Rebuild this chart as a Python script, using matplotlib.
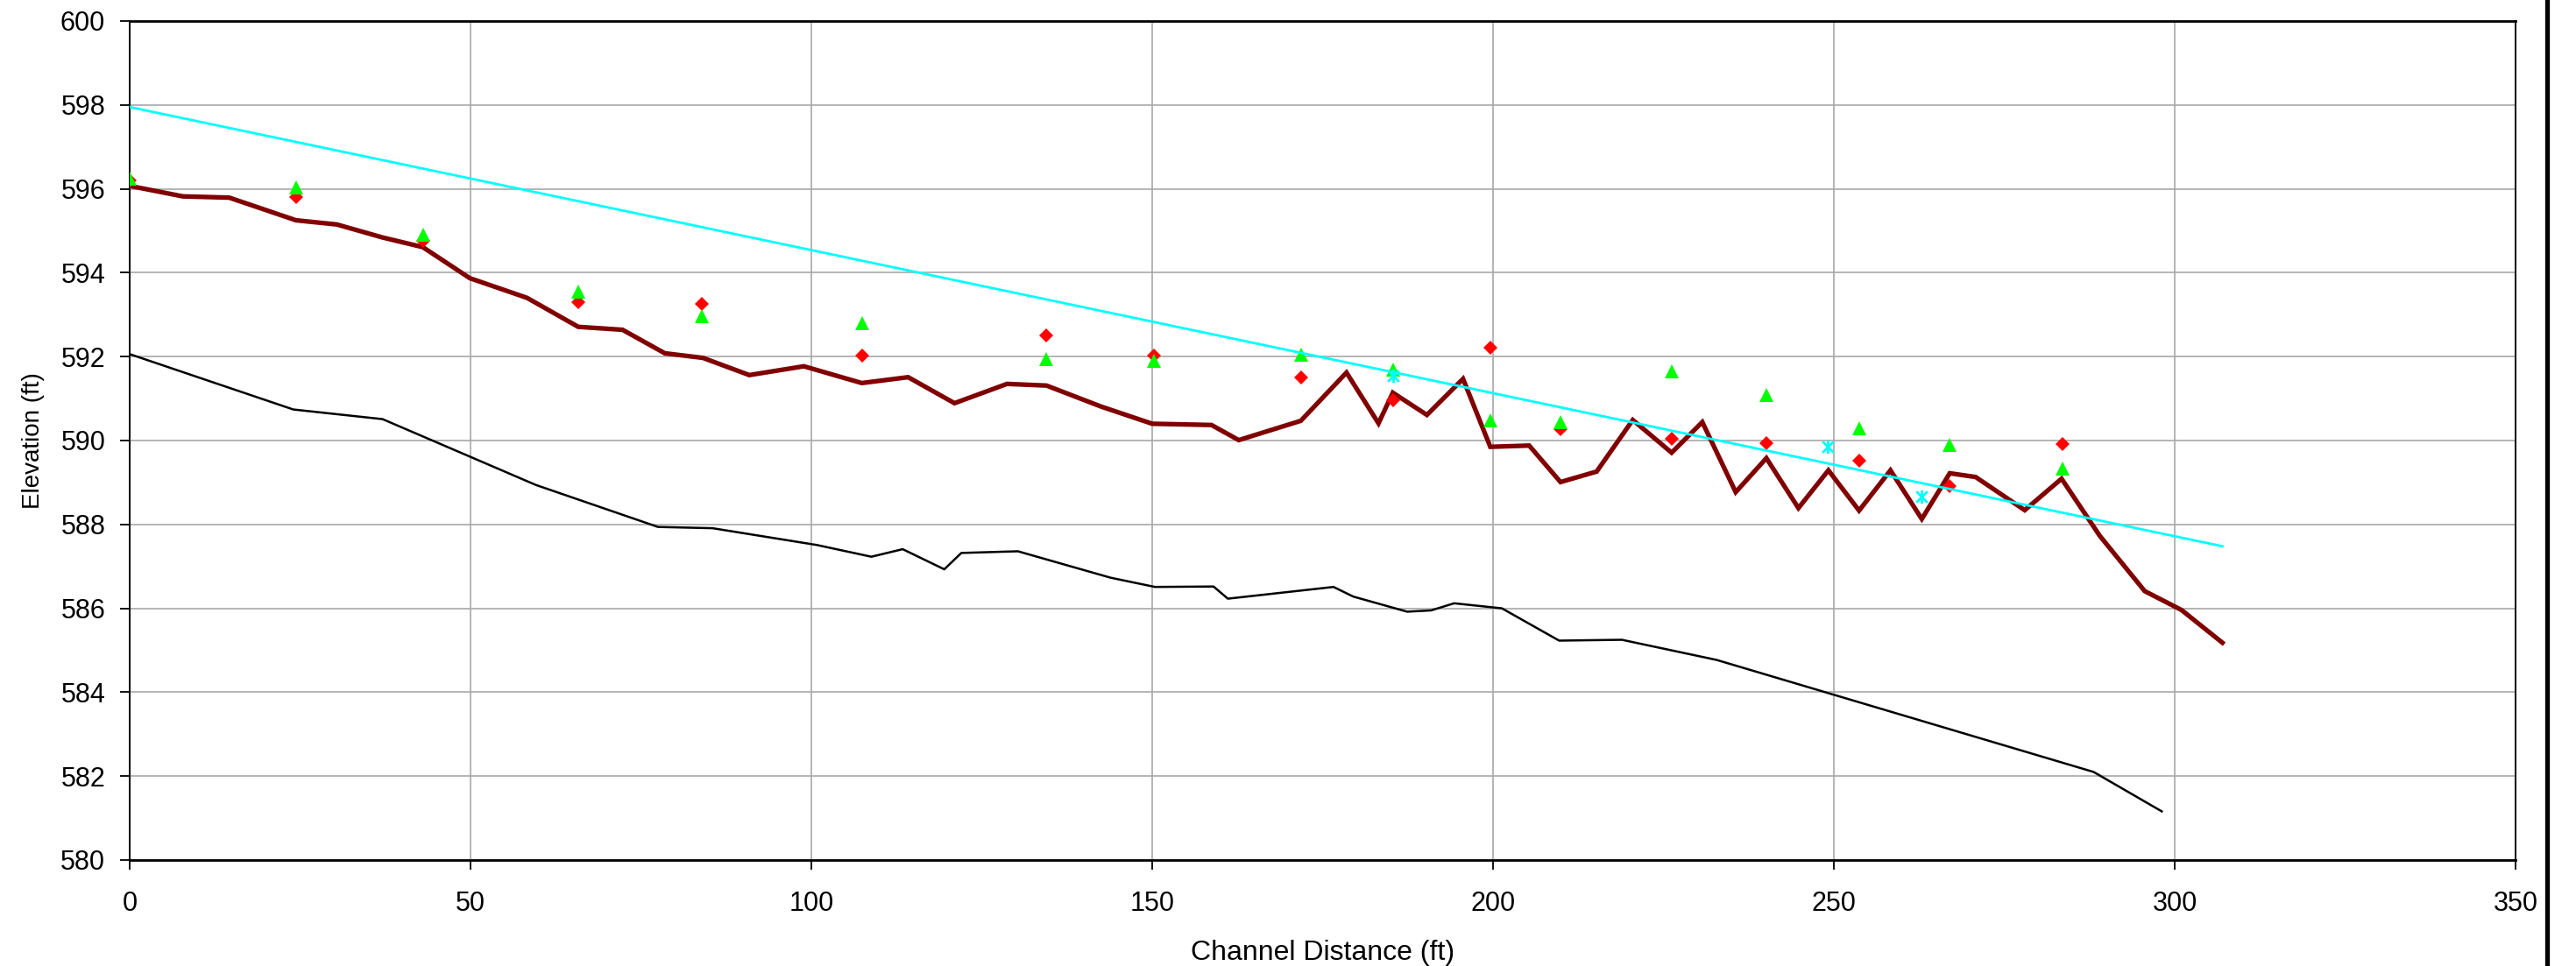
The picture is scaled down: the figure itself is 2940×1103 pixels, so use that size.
import numpy as np
import matplotlib
matplotlib.use("Agg")
import matplotlib.pyplot as plt
from matplotlib.path import Path
from matplotlib.lines import Line2D

plt.rcParams['font.family'] = ['Liberation Sans', 'DejaVu Sans']

# -------------------------
# DATA
# -------------------------
# water surface (thick maroon line)
ws_dist = [0, 7.8, 14.6, 24.4, 30.4, 37.1, 43.0, 49.9, 58.3, 65.8, 72.3, 78.5, 84.1,
           90.9, 98.9, 107.4, 114.2, 121.0, 128.7, 134.5, 142.5, 150.0, 158.7, 162.7,
           171.8, 178.5, 183.2, 185.3, 190.3, 195.6, 199.6, 205.3, 209.9, 215.2, 220.5,
           226.2, 230.7, 235.6, 240.1, 244.8, 249.2, 253.7, 258.3, 262.9, 267.0, 270.8,
           278.0, 283.4, 289.0, 295.6, 301.0, 307.0]
ws_elev = [596.07, 595.82, 595.79, 595.25, 595.15, 594.84, 594.61, 593.87, 593.40, 592.71,
           592.64, 592.08, 591.97, 591.56, 591.77, 591.37, 591.51, 590.89, 591.35, 591.31,
           590.81, 590.40, 590.37, 590.01, 590.47, 591.62, 590.41, 591.14, 590.61, 591.47,
           589.85, 589.88, 589.01, 589.26, 590.49, 589.71, 590.44, 588.77, 589.58, 588.39,
           589.29, 588.33, 589.29, 588.13, 589.22, 589.13, 588.34, 589.09, 587.73, 586.41,
           585.96, 585.18]

# channel bed (thin black line)
bed_dist = [0, 24.0, 37.1, 59.6, 77.5, 85.5, 100.8, 108.8, 113.4, 119.5, 122.0, 130.3,
            143.9, 150.4, 159.0, 161.1, 176.6, 179.5, 187.4, 190.9, 194.3, 201.3, 209.7,
            218.9, 232.8, 288.1, 298.1]
bed_elev = [592.06, 590.74, 590.51, 588.94, 587.94, 587.91, 587.51, 587.23, 587.41, 586.93,
            587.32, 587.36, 586.73, 586.51, 586.52, 586.23, 586.51, 586.28, 585.92, 585.95,
            586.12, 586.00, 585.23, 585.25, 584.77, 582.10, 581.16]

# bank / survey points
pt_dist = [0, 24.4, 43.0, 65.8, 83.9, 107.4, 134.5, 150.2, 171.8, 185.3, 199.6, 209.9,
           226.2, 240.1, 253.7, 267.0, 283.5]
red_elev = [596.20, 595.81, 594.76, 593.29, 593.26, 592.03, 592.51, 592.03, 591.50, 590.95,
            592.21, 590.27, 590.04, 589.94, 589.52, 588.92, 589.92]
green_elev = [596.24, 596.03, 594.90, 593.55, 592.97, 592.79, 591.95, 591.89, 592.04, 591.70,
              590.49, 590.44, 591.64, 591.08, 590.29, 589.89, 589.33]

# cyan asterisks
ast_dist = [185.3, 249.1, 262.9]
ast_elev = [591.55, 589.85, 588.67]

# cyan straight line
cy_dist = [0, 307.0]
cy_elev = [597.95, 587.48]

# -------------------------
# PLOT
# -------------------------
fig = plt.figure(figsize=(29.4, 11.03), dpi=100)
ax = fig.add_axes([148 / 2940, 1 - 982 / 1103, (2871 - 148) / 2940, (982 - 24) / 1103])

ax.plot(bed_dist, bed_elev, color='black', lw=1.8, zorder=3)
ax.plot(ws_dist, ws_elev, color='#800000', lw=3.8, zorder=4, solid_joinstyle='miter')
ax.plot(pt_dist, red_elev, 'D', color='#ff0000', ms=8.5, mew=0, zorder=5)
ax.plot(pt_dist, green_elev, '^', color='#00ff00', ms=11.5, mew=0, zorder=6)
ax.plot(cy_dist, cy_elev, color='#00ffff', lw=2.0, zorder=7)

star = Path([(-1, -1), (1, 1), (-1, 1), (1, -1), (0, -1.2), (0, 1.2)],
            [Path.MOVETO, Path.LINETO, Path.MOVETO, Path.LINETO, Path.MOVETO, Path.LINETO])
ax.plot(ast_dist, ast_elev, linestyle='none', marker=star, ms=11,
        markerfacecolor='none', markeredgecolor='#00ffff', mew=2, zorder=8)

ax.set_xlim(0, 350)
ax.set_ylim(580, 600)
ax.set_xticks(np.arange(0, 351, 50))
ax.set_yticks(np.arange(580, 601, 2))
ax.grid(True, color='#a8a8a8', lw=1.2, zorder=0)
ax.set_axisbelow(True)

ax.tick_params(axis='both', direction='out', length=8, width=1.3, labelsize=22)
ax.tick_params(axis='x', pad=17)
ax.tick_params(axis='y', pad=12)

for side in ['top', 'bottom']:
    ax.spines[side].set_linewidth(2.0)
for side in ['left', 'right']:
    ax.spines[side].set_linewidth(1.4)

ax.set_xlabel("Channel Distance (ft)", fontsize=23, labelpad=19)
ax.set_ylabel("Elevation (ft)", fontsize=20, labelpad=13)

# outer chart border on the right
fig.add_artist(Line2D([2907 / 2940, 2907 / 2940], [0, 1], color='black', lw=3.8,
                      transform=fig.transFigure))

fig.savefig("out.png", dpi=100, facecolor='white')
